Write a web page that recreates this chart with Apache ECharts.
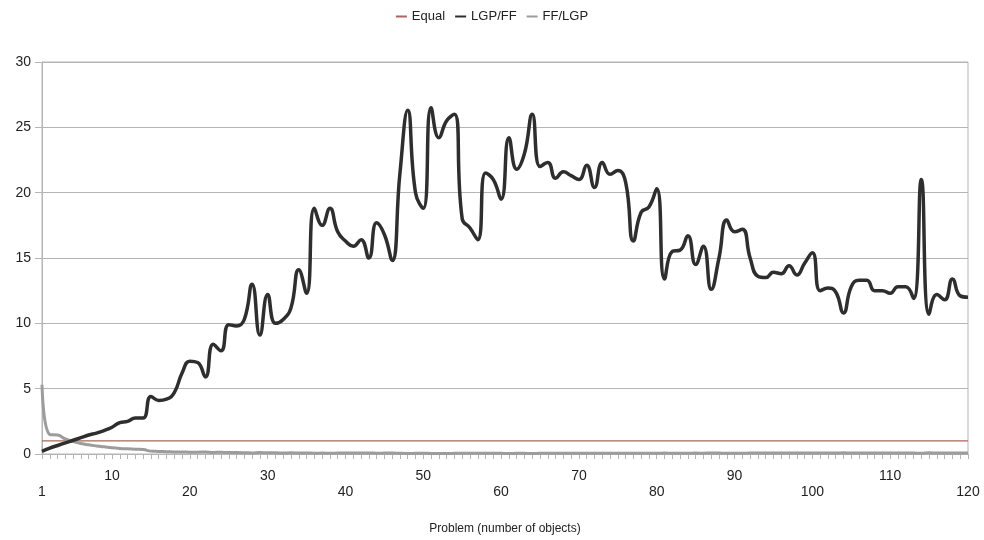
<!DOCTYPE html>
<html>
<head>
<meta charset="utf-8">
<script src="https://cdn.jsdelivr.net/npm/echarts@6/dist/echarts.min.js"></script>
<style>
  html, body { margin: 0; padding: 0; background: #fff; }
  #chart { width: 984px; height: 540px; }
</style>
</head>
<body>
<div id="chart"></div>
<script>
// problems 1..120
const problems = Array.from({ length: 120 }, (_, i) => String(i + 1));

const lgpFF = [
  0.2, 0.45, 0.65, 0.85, 1.05, 1.25, 1.45, 1.6, 1.8, 2.05,
  2.4, 2.5, 2.75, 2.75, 4.4, 4.1, 4.2, 4.7, 6.2, 7.1,
  7.0, 5.9, 8.4, 7.9, 9.9, 9.8, 10.3, 13.0, 9.1, 12.2,
  10.0, 10.3, 11.2, 14.1, 12.3, 18.8, 17.5, 18.8, 17.0, 16.3,
  15.9, 16.4, 15.0, 17.7, 16.8, 14.8, 21.5, 26.3, 20.0, 18.8,
  26.5, 24.2, 25.5, 26.0, 18.0, 17.3, 16.4, 21.5, 21.0, 19.5,
  24.2, 21.8, 23.0, 26.0, 22.0, 22.3, 21.1, 21.6, 21.3, 21.0,
  22.1, 20.4, 22.3, 21.4, 21.7, 20.8, 16.3, 18.5, 18.9, 20.3,
  13.4, 15.5, 15.6, 16.7, 14.5, 15.9, 12.6, 15.0, 17.9, 17.0,
  17.2, 15.0, 13.6, 13.5, 13.9, 13.8, 14.4, 13.7, 14.6, 15.4,
  12.5, 12.7, 12.4, 10.8, 12.8, 13.3, 13.3, 12.5, 12.5, 12.3,
  12.8, 12.8, 11.9, 21.0, 10.7, 12.2, 11.8, 13.4, 12.1, 12.0
];

const ffLGP = [
  5.3, 1.5, 1.45, 1.15, 0.95, 0.8, 0.7, 0.62, 0.55, 0.48,
  0.43, 0.4, 0.37, 0.34, 0.22, 0.2, 0.18, 0.16, 0.15, 0.14,
  0.14, 0.16, 0.12, 0.13, 0.11, 0.11, 0.1, 0.08, 0.11, 0.09,
  0.09, 0.08, 0.09, 0.07, 0.08, 0.06, 0.07, 0.06, 0.07, 0.07,
  0.07, 0.07, 0.08, 0.06, 0.07, 0.08, 0.05, 0.04, 0.05, 0.06,
  0.04, 0.04, 0.04, 0.05, 0.06, 0.06, 0.06, 0.05, 0.05, 0.05,
  0.04, 0.05, 0.05, 0.04, 0.05, 0.05, 0.05, 0.05, 0.05, 0.05,
  0.05, 0.05, 0.05, 0.05, 0.05, 0.05, 0.06, 0.06, 0.05, 0.05,
  0.07, 0.06, 0.06, 0.06, 0.07, 0.06, 0.08, 0.07, 0.06, 0.06,
  0.06, 0.07, 0.07, 0.07, 0.07, 0.07, 0.07, 0.07, 0.07, 0.07,
  0.08, 0.08, 0.08, 0.09, 0.08, 0.08, 0.08, 0.08, 0.08, 0.08,
  0.08, 0.08, 0.08, 0.05, 0.09, 0.08, 0.08, 0.07, 0.08, 0.08
];

const equal = [
  1, 1, 1, 1, 1, 1, 1, 1, 1, 1, 1, 1, 1, 1, 1, 1, 1, 1, 1, 1,
  1, 1, 1, 1, 1, 1, 1, 1, 1, 1, 1, 1, 1, 1, 1, 1, 1, 1, 1, 1,
  1, 1, 1, 1, 1, 1, 1, 1, 1, 1, 1, 1, 1, 1, 1, 1, 1, 1, 1, 1,
  1, 1, 1, 1, 1, 1, 1, 1, 1, 1, 1, 1, 1, 1, 1, 1, 1, 1, 1, 1,
  1, 1, 1, 1, 1, 1, 1, 1, 1, 1, 1, 1, 1, 1, 1, 1, 1, 1, 1, 1,
  1, 1, 1, 1, 1, 1, 1, 1, 1, 1, 1, 1, 1, 1, 1, 1, 1, 1, 1, 1
];

const gridColor = "#b5b5b5";
const font = "Liberation Sans, Arial, sans-serif";

const chart = echarts.init(document.getElementById("chart"));

const option = {
  animation: false,
  textStyle: { fontFamily: font },
  legend: {
    top: 5,
    left: "center",
    icon: "rect",
    itemWidth: 11,
    itemHeight: 2,
    itemGap: 10,
    textStyle: { fontSize: 13, color: "#222", fontFamily: font },
    data: ["Equal", "LGP/FF", "FF/LGP"],
  },
  grid: {
    left: 42,
    right: 16,
    top: 62,
    bottom: 82,
    show: true,
    borderColor: gridColor,
    borderWidth: 1,
  },
  xAxis: {
    type: "category",
    data: problems,
    boundaryGap: false,
    name: "Problem (number of objects)",
    nameLocation: "middle",
    nameGap: 69,
    nameTextStyle: { fontSize: 12, color: "#222", fontFamily: font },
    axisLine: { lineStyle: { color: gridColor, width: 1 } },
    axisTick: {
      show: true,
      interval: 0,
      length: 5,
      lineStyle: { color: gridColor },
    },
    splitLine: { show: false },
    axisLabel: {
      interval: (idx, val) => val === "1" || Number(val) % 10 === 0,
      margin: 14,
      fontSize: 14,
      lineHeight: 16,
      color: "#222",
      fontFamily: font,
      formatter: (val) => (Number(val) % 20 === 10 ? val : "\n" + val),
    },
  },
  yAxis: {
    type: "value",
    min: 0,
    max: 30,
    interval: 5,
    axisLine: { show: true, lineStyle: { color: gridColor } },
    axisTick: { show: true, length: 7, lineStyle: { color: gridColor } },
    splitLine: { lineStyle: { color: gridColor, width: 1 } },
    axisLabel: { fontSize: 14, color: "#222", margin: 11, fontFamily: font },
  },
  series: [
    {
      name: "Equal",
      type: "line",
      data: equal,
      showSymbol: false,
      symbol: "none",
      itemStyle: { color: "#a9665e" },
      lineStyle: { color: "#a9665e", width: 1.3 },
      z: 1,
    },
    {
      name: "LGP/FF",
      type: "line",
      data: lgpFF,
      smooth: 0.5,
      showSymbol: false,
      symbol: "none",
      itemStyle: { color: "#2e2e2e" },
      lineStyle: { color: "#2e2e2e", width: 3.5 },
      z: 3,
    },
    {
      name: "FF/LGP",
      type: "line",
      data: ffLGP,
      smooth: 0.5,
      showSymbol: false,
      symbol: "none",
      itemStyle: { color: "#9c9c9c" },
      lineStyle: { color: "#9c9c9c", width: 3 },
      z: 2,
    },
  ],
};

chart.setOption(option);
</script>
</body>
</html>
